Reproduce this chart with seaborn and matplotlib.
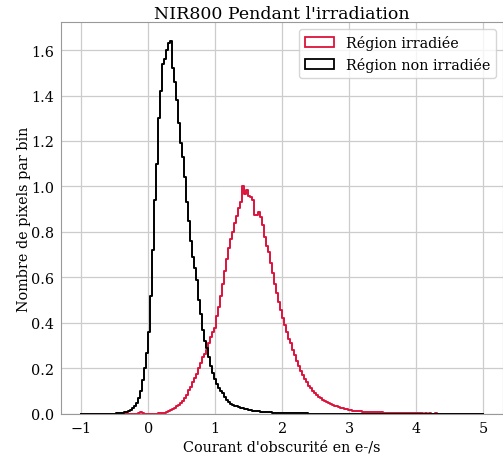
import numpy as np
import pandas as pd
import seaborn as sns
from matplotlib import pyplot as plt
from matplotlib.patches import Patch

# histogram bins: 200 bins between -1 and 5 e-/s
bin_start, bin_stop, n_bins = -1.0, 5.0, 200

# normalised counts per bin
counts_irradiee = [
    0, 0, 0, 0, 0, 0, 0, 0, 0, 0,
    0, 0, 0, 0, 0, 0, 0, 0, 0, 0,
    0, 0, 0, 0, 0, 0, 0, 0, 0.003, 0.007,
    0.004, 0.002, 0.001, 0.001, 0.001, 0.002, 0.002, 0.002, 0.003, 0.003,
    0.004, 0.006, 0.008, 0.012, 0.016, 0.021, 0.027, 0.033, 0.040, 0.050,
    0.058, 0.068, 0.085, 0.105, 0.12, 0.14, 0.16, 0.175, 0.20, 0.225,
    0.25, 0.265, 0.28, 0.31, 0.34, 0.36, 0.38, 0.43, 0.47, 0.52,
    0.57, 0.63, 0.68, 0.73, 0.77, 0.80, 0.84, 0.87, 0.905, 0.93,
    1.00, 0.965, 0.985, 0.96, 0.955, 0.94, 0.875, 0.875, 0.89, 0.865,
    0.83, 0.78, 0.74, 0.71, 0.665, 0.62, 0.57, 0.53, 0.49, 0.455,
    0.42, 0.39, 0.36, 0.33, 0.31, 0.28, 0.26, 0.235, 0.21, 0.19,
    0.17, 0.155, 0.14, 0.125, 0.112, 0.10, 0.09, 0.082, 0.075, 0.068,
    0.062, 0.057, 0.052, 0.047, 0.043, 0.040, 0.036, 0.033, 0.030, 0.027,
    0.025, 0.022, 0.020, 0.018, 0.016, 0.015, 0.014, 0.013, 0.012, 0.011,
    0.010, 0.010, 0.009, 0.009, 0.008, 0.008, 0.008, 0.007, 0.007, 0.007,
    0.006, 0.006, 0.006, 0.005, 0.005, 0.005, 0.005, 0.005, 0.004, 0.004,
    0.004, 0.004, 0.004, 0.004, 0.003, 0.004, 0.003, 0.003, 0.003, 0.003,
    0.002, 0.003, 0.002, 0.003, 0.002, 0.002, 0.003, 0.002, 0.002, 0.002,
    0.002, 0.001, 0.002, 0.002, 0.001, 0.002, 0.001, 0.001, 0.002, 0.001,
    0.001, 0.001, 0, 0, 0, 0, 0, 0, 0, 0,
]

counts_non_irradiee = [
    0, 0, 0, 0, 0, 0, 0, 0, 0, 0,
    0, 0, 0.0003, 0.0005, 0.001, 0.0012, 0.002, 0.0025, 0.003, 0.004,
    0.006, 0.008, 0.010, 0.013, 0.018, 0.026, 0.036, 0.05, 0.07, 0.10,
    0.15, 0.20, 0.27, 0.36, 0.52, 0.72, 0.94, 1.10, 1.30, 1.42,
    1.54, 1.56, 1.60, 1.63, 1.64, 1.52, 1.46, 1.38, 1.28, 1.19,
    1.13, 1.04, 0.93, 0.85, 0.76, 0.69, 0.64, 0.59, 0.50, 0.44,
    0.37, 0.32, 0.29, 0.25, 0.21, 0.18, 0.155, 0.13, 0.112, 0.10,
    0.09, 0.076, 0.062, 0.052, 0.045, 0.040, 0.036, 0.033, 0.030, 0.027,
    0.025, 0.022, 0.020, 0.018, 0.016, 0.014, 0.013, 0.012, 0.011, 0.010,
    0.009, 0.009, 0.008, 0.007, 0.007, 0.006, 0.006, 0.006, 0.005, 0.005,
    0.005, 0.004, 0.004, 0.004, 0.004, 0.003, 0.003, 0.003, 0.003, 0.003,
    0.003, 0.0025, 0.0025, 0.002, 0.002, 0.002, 0.002, 0.002, 0.002, 0.0018,
    0.0018, 0.0016, 0.0015, 0.0015, 0.0014, 0.0013, 0.0012, 0.0012, 0.0011, 0.0011,
    0.001, 0.001, 0.001, 0.0009, 0.0009, 0.0009, 0.0008, 0.0008, 0.0008, 0.0007,
    0.0007, 0.0007, 0.0007, 0.0006, 0.0006, 0.0006, 0.0006, 0.0006, 0.0005, 0.0005,
    0.0005, 0.0005, 0.0005, 0.0005, 0.0005, 0.0005, 0.0005, 0.0005, 0.0005, 0.0005,
    0.0004, 0.0004, 0.0004, 0.0004, 0.0004, 0.0004, 0.0004, 0.0004, 0.0004, 0.0004,
    0.0004, 0.0004, 0.0004, 0.0003, 0.0003, 0.0003, 0.0003, 0.0003, 0.0003, 0.0003,
    0.0003, 0.0003, 0.0003, 0.0003, 0.0003, 0.0003, 0.0003, 0.0003, 0.0003, 0.0003,
    0.0002, 0.0002, 0.0002, 0.0002, 0.0002, 0.0002, 0.0002, 0.0002, 0.0002, 0.0002,
]

labels = ["Région irradiée", "Région non irradiée"]
colors = ["crimson", "black"]

plt.rcParams['font.family'] = ['DejaVu Serif']

edges = np.linspace(bin_start, bin_stop, n_bins + 1)
centers = (edges[:-1] + edges[1:]) / 2

fig, ax = plt.subplots(figsize=(5.03, 4.56), dpi=100)
fig.subplots_adjust(left=0.122, right=1.0, bottom=0.09, top=0.949)

for counts, color in zip([counts_irradiee, counts_non_irradiee], colors):
    df = pd.DataFrame({'courant': centers, 'poids': counts})
    sns.histplot(data=df, x='courant', weights='poids', bins=edges.tolist(),
                 element='step', fill=False, color=color, linewidth=1.4,
                 ax=ax)

ax.set_ylim(bottom=0)
ax.grid(True, color='#cccccc', linewidth=0.9)
ax.set_axisbelow(True)
for spine in ax.spines.values():
    spine.set_color('#999999')
ax.set_title("NIR800 Pendant l'irradiation", fontsize=12.5, pad=1.5)
ax.set_xlabel("Courant d'obscurité en e-/s", fontsize=10.4, labelpad=3)
ax.set_ylabel("Nombre de pixels par bin", fontsize=10.4, labelpad=0)
ax.tick_params(labelsize=10.4, length=0, pad=5)

handles = [Patch(facecolor='none', edgecolor=c, linewidth=1.3, label=l)
           for c, l in zip(colors, labels)]
ax.legend(handles=handles, loc='upper right', fontsize=10.4)

plt.savefig('out.png', dpi=100)
